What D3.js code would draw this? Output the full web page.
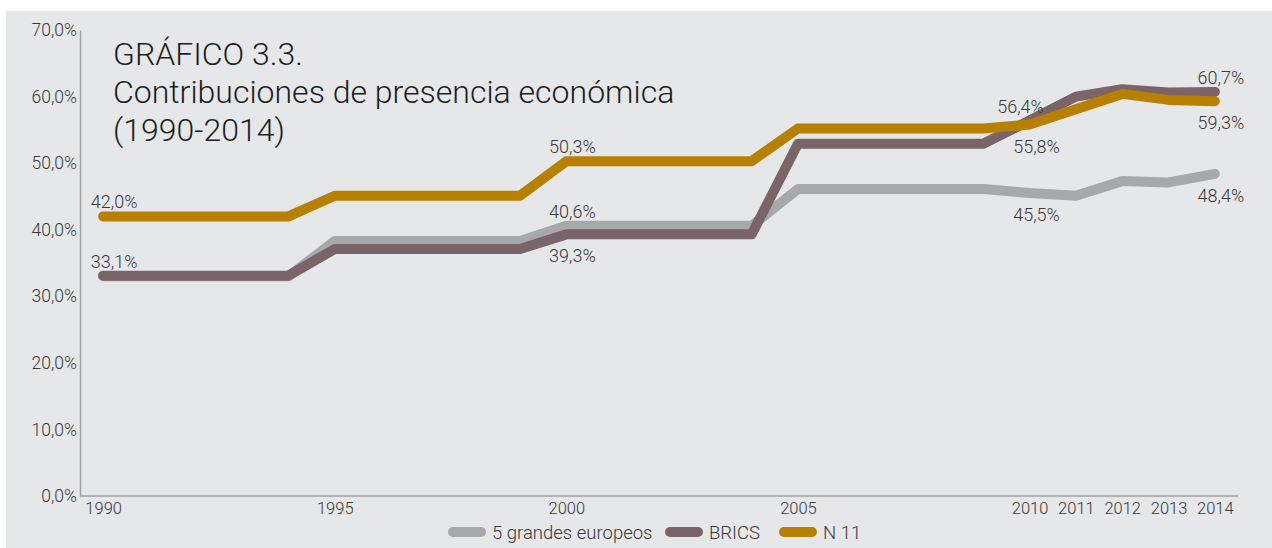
<!DOCTYPE html>
<html>
<head>
<meta charset="utf-8">
<script src="https://cdn.jsdelivr.net/npm/d3@7"></script>
<style>
  html, body { margin: 0; padding: 0; background: #ffffff; }
  svg { display: block; font-family: "Roboto Light", Roboto, "Noto Sans", sans-serif; }
</style>
</head>
<body>
<svg id="chart" width="1272" height="548"></svg>
<script>
// ---------- data ----------
const years = d3.range(1990, 2015);
const yearLabels = ["1990", "1995", "2000", "2005", "2010", "2011", "2012", "2013", "2014"];
const seriesNames = ["5 grandes europeos", "BRICS", "N 11"];
const grandesEuropeos = [33.0, 33.0, 33.0, 33.0, 33.0, 38.3, 38.3, 38.3, 38.3, 38.3, 40.6, 40.6, 40.6, 40.6, 40.6, 46.1, 46.1, 46.1, 46.1, 46.1, 45.5, 45.1, 47.3, 47.1, 48.4];
const brics = [33.1, 33.1, 33.1, 33.1, 33.1, 37.1, 37.1, 37.1, 37.1, 37.1, 39.3, 39.3, 39.3, 39.3, 39.3, 52.9, 52.9, 52.9, 52.9, 52.9, 56.4, 60.0, 61.1, 60.6, 60.7];
const n11 = [42.0, 42.0, 42.0, 42.0, 42.0, 45.1, 45.1, 45.1, 45.1, 45.1, 50.3, 50.3, 50.3, 50.3, 50.3, 55.2, 55.2, 55.2, 55.2, 55.2, 55.8, 58.1, 60.4, 59.5, 59.3];
const yTicks = [0, 10, 20, 30, 40, 50, 60, 70];
const titleLines = ["GRÁFICO 3.3.", "Contribuciones de presencia económica", "(1990-2014)"];
// which values get a label: [series index, year, side]
const labelled = [
  [2, 1990, "above"], [1, 1990, "above"],
  [2, 2000, "above"], [0, 2000, "above"], [1, 2000, "below"],
  [1, 2010, "above"], [2, 2010, "below"], [0, 2010, "below"],
  [1, 2014, "above"], [2, 2014, "below"], [0, 2014, "below"]
];

// ---------- layout ----------
const colors = ["#a7a8aa", "#7b6467", "#b88000"];
const textColor = "#3a3a3a";
const svg = d3.select("#chart");
const W = 1272, H = 548;
const m = { left: 80, right: 1238, top: 30, bottom: 496 };

svg.append("rect").attr("x", 6).attr("y", 11).attr("width", W - 6).attr("height", H - 11).attr("fill", "#e6e7e8");

const x = d3.scalePoint().domain(years).range([m.left, m.right]).padding(0.5);
const y = d3.scaleLinear().domain([0, 70]).range([m.bottom, m.top]);
const fmt = v => d3.format(".1f")(v).replace(".", ",") + "%";

// axes
const yAxis = svg.append("g").attr("transform", `translate(${m.left},0)`)
  .call(d3.axisLeft(y).tickValues(yTicks).tickSize(0).tickPadding(3).tickFormat(fmt));
yAxis.select(".domain").attr("stroke", "#a0a0a0").attr("stroke-width", 1.5);
yAxis.selectAll("text").attr("font-size", 17.5).attr("font-weight", 300).attr("fill", textColor)
  .attr("font-family", "'Roboto Light', Roboto, sans-serif");

const xAxis = svg.append("g").attr("transform", `translate(0,${m.bottom})`)
  .call(d3.axisBottom(x).tickSize(0).tickPadding(6)
    .tickFormat(d => yearLabels.includes(String(d)) ? String(d) : ""));
xAxis.select(".domain").attr("stroke", "#a0a0a0").attr("stroke-width", 1.5)
  .attr("d", `M${m.left},0H${m.right}`);
xAxis.selectAll("text").attr("font-size", 16.5).attr("font-weight", 300).attr("fill", textColor)
  .attr("font-family", "'Roboto Light', Roboto, sans-serif");

// title
const title = svg.append("text").attr("x", 113).attr("y", 65)
  .attr("font-size", 32).attr("font-weight", 300).attr("fill", "#1e1e1e");
title.selectAll("tspan").data(titleLines).join("tspan")
  .attr("x", 113).attr("dy", (d, i) => i === 0 ? 0 : 38).text(d => d);

// lines
const allSeries = [grandesEuropeos, brics, n11];
const line = d3.line().x((d, i) => x(years[i])).y(d => y(d));
svg.append("g").selectAll("path").data(allSeries).join("path")
  .attr("d", line).attr("fill", "none")
  .attr("stroke", (d, i) => colors[i]).attr("stroke-width", 10)
  .attr("stroke-linecap", "round").attr("stroke-linejoin", "round");

// labels
function labelDx(d) {
  if (d[1] === 1990) return 11;
  if (d[1] === 2010) return d[2] === "above" ? -9 : 7;
  return 6;
}
svg.append("g").selectAll("text").data(labelled).join("text")
  .attr("x", d => x(d[1]) + labelDx(d))
  .attr("y", d => y(allSeries[d[0]][years.indexOf(d[1])]) + (d[2] === "above" ? -8 : 28))
  .attr("text-anchor", "middle").attr("font-size", 18).attr("font-weight", 300).attr("fill", textColor)
  .text(d => fmt(allSeries[d[0]][years.indexOf(d[1])]));

// legend
const legend = svg.append("g").attr("transform", "translate(0,532)");
const legendX = [448, 665, 779];
const items = legend.selectAll("g").data(seriesNames).join("g")
  .attr("transform", (d, i) => `translate(${legendX[i]},0)`);
items.append("line").attr("x1", 5).attr("x2", 33).attr("y1", 0).attr("y2", 0)
  .attr("stroke", (d, i) => colors[i]).attr("stroke-width", 10).attr("stroke-linecap", "round");
items.append("text").attr("x", 44).attr("y", 6.5).attr("font-size", 18.5).attr("font-weight", 300)
  .attr("fill", textColor).text(d => d);
</script>
</body>
</html>
